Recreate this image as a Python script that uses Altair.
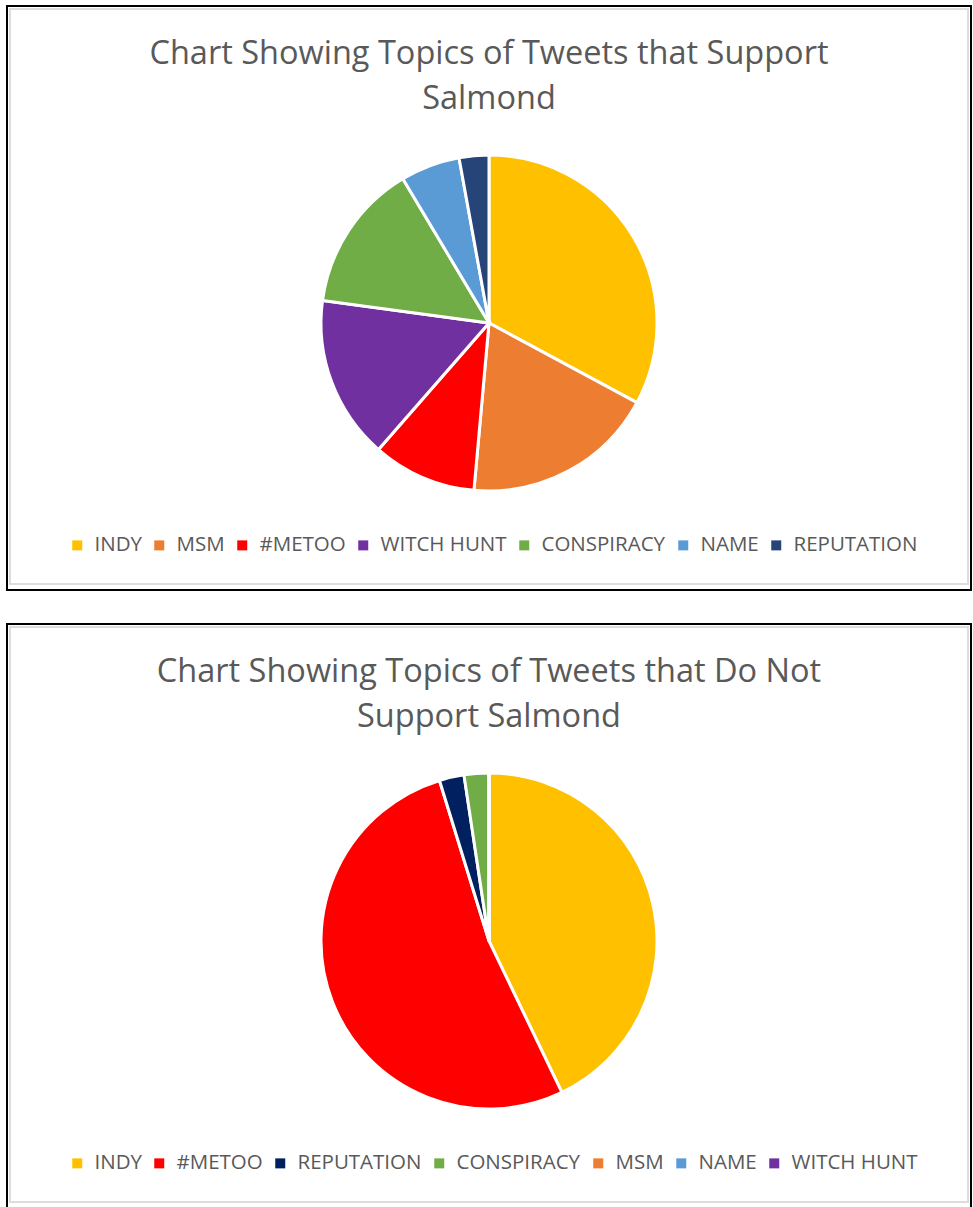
import altair as alt
import pandas as pd

# --- data ---
TOP_TITLE = ["Chart Showing Topics of Tweets that Support", "Salmond"]
TOP_TOPICS = ["INDY", "MSM", "#METOO", "WITCH HUNT", "CONSPIRACY", "NAME", "REPUTATION"]
TOP_COUNTS = [23, 13, 7, 11, 10, 4, 2]
TOP_COLORS = ["#FFC000", "#ED7D31", "#FF0000", "#7030A0", "#70AD47", "#5B9BD5", "#264478"]

BOT_TITLE = ["Chart Showing Topics of Tweets that Do Not", "Support Salmond"]
BOT_TOPICS = ["INDY", "#METOO", "REPUTATION", "CONSPIRACY", "MSM", "NAME", "WITCH HUNT"]
BOT_COUNTS = [18, 22, 1, 1, 0, 0, 0]
BOT_COLORS = ["#FFC000", "#FF0000", "#002060", "#70AD47", "#ED7D31", "#5B9BD5", "#7030A0"]

W, H = 964, 584
FONT = "Open Sans"
GREY = "#595959"


def panel(title_lines, topics, counts, colors, cy):
    df = pd.DataFrame({"topic": topics, "count": counts, "idx": list(range(len(topics)))})
    pie = alt.Chart(df).mark_arc(stroke="white", strokeWidth=3, radius=168).encode(
        theta=alt.Theta("count:Q", stack=True),
        order=alt.Order("idx:Q"),
        color=alt.Color(
            "topic:N",
            scale=alt.Scale(domain=topics, range=colors),
            sort=topics,
            legend=alt.Legend(
                title=None,
                orient="none",
                direction="horizontal",
                columns=len(topics),
                legendX=60,
                legendY=529,
                symbolType="square",
                symbolSize=100,
                symbolStrokeWidth=0,
                labelFont=FONT,
                labelFontSize=20.5,
                labelColor=GREY,
                columnPadding=7,
                labelOffset=7,
            ),
        ),
        x=alt.value(W / 2),
        y=alt.value(cy),
    )
    tdf = pd.DataFrame({"line": title_lines, "row": list(range(len(title_lines)))})
    title = alt.Chart(tdf).mark_text(
        font=FONT, fontSize=32.5, color=GREY, align="center", baseline="middle"
    ).encode(
        text="line:N",
        x=alt.value(W / 2),
        y=alt.Y("row:Q", axis=None, scale=alt.Scale(domain=[0, 1], range=[48, 93])),
    )
    frame = pd.DataFrame({"k": [0]})
    outer = alt.Chart(frame).mark_rect(
        fill="white", stroke="black", strokeWidth=2
    ).encode(
        x=alt.value(0), x2=alt.value(W), y=alt.value(0), y2=alt.value(H)
    )
    inner = alt.Chart(frame).mark_rect(
        fill=None, stroke="#DDDDDD", strokeWidth=2
    ).encode(
        x=alt.value(3), x2=alt.value(W - 3), y=alt.value(3), y2=alt.value(H - 6)
    )
    return alt.layer(outer, inner, title, pie).properties(width=W, height=H).resolve_scale(y="independent")


top = panel(TOP_TITLE, TOP_TOPICS, TOP_COUNTS, TOP_COLORS, 317)
bot = panel(BOT_TITLE, BOT_TOPICS, BOT_COUNTS, BOT_COLORS, 317)

chart = alt.vconcat(top, bot, spacing=30).resolve_scale(color="independent").properties(
    padding={"left": 5, "top": 4, "right": 0, "bottom": 0}
).configure_view(stroke=None).configure(background="white")

chart.save("out.html", embed_options={"renderer": "svg", "actions": False})
